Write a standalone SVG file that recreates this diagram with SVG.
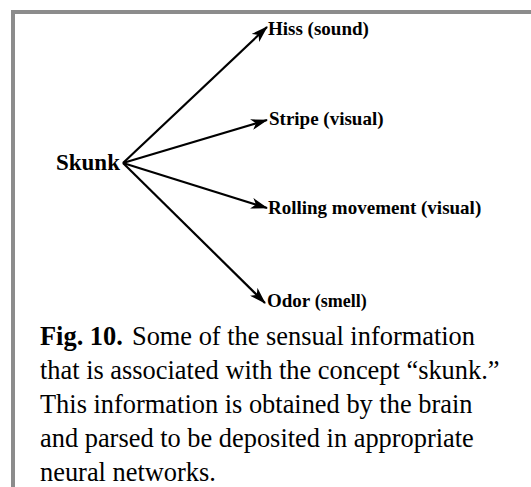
<svg xmlns="http://www.w3.org/2000/svg" width="531" height="487" viewBox="0 0 531 487">
<style>
.lbl{font-weight:bold;fill:#000}
.cap{font-size:26.4px;fill:#000}
.conn line{stroke:#000;stroke-width:2.2;marker-end:url(#ah)}
</style>
<defs>
<marker id="ah" viewBox="0 0 17 11" refX="16" refY="5.5" markerWidth="17" markerHeight="11" markerUnits="userSpaceOnUse" orient="auto">
<path d="M0,0 L17,5.5 L0,11 L4.5,5.5 z" fill="#000"/>
</marker>
</defs>
<rect width="531" height="487" fill="#fff"/>
<path d="M13,487 V12 H531" fill="none" stroke="#8c8c8c" stroke-width="4"/>
<g class="conn" id="connectors">
<line x1="123" y1="163" x2="267" y2="27"/>
<line x1="123" y1="163" x2="267" y2="120"/>
<line x1="123" y1="163" x2="267" y2="208"/>
<line x1="123" y1="163" x2="265" y2="303"/>
</g>
<g font-family="'Liberation Serif', 'DejaVu Serif', serif">
<g id="skunk"><text class="lbl" x="56" y="170" font-size="23">Skunk</text></g>
<g id="hiss"><text class="lbl" x="268" y="35" font-size="19">Hiss (sound)</text></g>
<g id="stripe"><text class="lbl" x="269" y="125" font-size="19">Stripe (visual)</text></g>
<g id="rolling"><text class="lbl" x="268" y="214" font-size="19">Rolling movement (visual)</text></g>
<g id="odor"><text class="lbl" x="267" y="307" font-size="19">Odor <tspan font-size="18">(smell)</tspan></text></g>
<g id="caption">
<text class="cap" x="40" y="345"><tspan font-weight="bold">Fig. 10.</tspan> <tspan dx="2.5">Some of the sensual information</tspan></text>
<text class="cap" x="40" y="379">that is associated with the concept “skunk.”</text>
<text class="cap" x="40" y="413">This information is obtained by the brain</text>
<text class="cap" x="40" y="447">and parsed to be deposited in appropriate</text>
<text class="cap" x="40" y="481">neural networks.</text>
</g>
</g>
</svg>
